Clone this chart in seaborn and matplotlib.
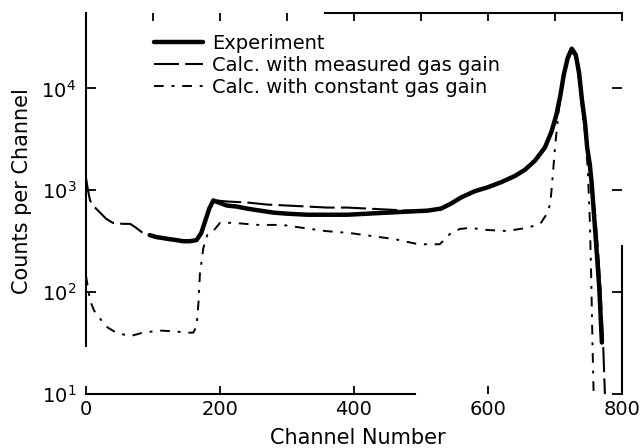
import matplotlib
matplotlib.use("Agg")
import matplotlib.pyplot as plt
import seaborn as sns
from matplotlib.ticker import MultipleLocator, LogLocator, NullLocator

# values (counts per channel)
ch_exp = [95, 105, 115, 125, 135, 145, 155, 165, 172, 178, 184, 190, 198,
          210, 225, 240, 260, 280, 300, 330, 360, 390, 420, 450, 480, 510,
          530, 545, 560, 580, 600, 620, 640, 655, 670, 685, 695, 702, 708,
          713, 719, 725, 731, 736, 740, 745, 748, 752, 755, 760, 766, 770]
cnt_exp = [363, 347, 339, 331, 324, 316, 316, 324, 380, 501, 661, 794, 759,
           708, 692, 661, 631, 603, 589, 575, 575, 575, 589, 603, 617, 631,
           661, 741, 851, 977, 1072, 1202, 1380, 1585, 1950, 2630, 3802, 5495, 8511,
           13490, 19953, 24547, 21380, 14125, 7943, 4467, 2630, 1778, 1122, 398, 112, 32]

ch_meas = [0, 3, 6, 12, 21, 30, 40, 55, 66, 75, 85, 95, 110, 130, 150,
           165, 175, 185, 195, 210, 240, 270, 300, 330, 360, 390, 420, 450, 480,
           510, 530, 545, 560, 580, 600, 620, 640, 655, 670, 685, 695, 702, 708,
           713, 719, 725, 731, 736, 740, 745, 748, 752, 755, 760, 764, 768, 772, 775]
cnt_meas = [1318, 1000, 794, 692, 603, 525, 479, 468, 468, 427, 380, 363, 347, 331, 316,
            324, 417, 676, 794, 776, 759, 724, 708, 692, 676, 676, 661, 646, 631,
            631, 661, 741, 851, 977, 1072, 1202, 1380, 1585, 1950, 2630, 3802, 5495, 8511,
            13490, 19953, 23988, 19953, 12589, 7079, 4169, 2512, 1778, 1122, 562, 269, 105, 29, 8]

ch_const = [0, 6, 12, 21, 30, 45, 66, 85, 110, 135, 150, 160, 165, 168, 170,
            175, 181, 190, 200, 219, 257, 293, 324, 357, 394, 427, 461, 496, 528,
            543, 558, 573, 600, 628, 658, 678, 688, 693, 696, 700, 705, 712, 719,
            725, 731, 736, 740, 745, 749, 752, 754, 756, 758]
cnt_const = [145, 83, 66, 55, 46, 40, 37, 40, 42, 41, 40, 40, 46, 81, 151,
             269, 363, 398, 479, 479, 457, 457, 427, 398, 380, 355, 331, 295, 295,
             372, 417, 427, 407, 398, 427, 468, 589, 741, 1230, 2630, 5623, 12589, 19055,
             22909, 19055, 12023, 6607, 3548, 1585, 501, 145, 30, 8]

labels = ["Experiment", "Calc. with measured gas gain", "Calc. with constant gas gain"]

sns.set_style("ticks")
plt.rcParams["font.family"] = ["DejaVu Sans"]
plt.rcParams.update({"text.color": "black", "axes.labelcolor": "black",
                     "xtick.color": "black", "ytick.color": "black"})

fig = plt.figure(figsize=(6.43, 4.48), dpi=100)
ax = fig.add_axes([86 / 643, 1 - 394 / 448, 536 / 643, 381 / 448])

sns.lineplot(x=ch_exp, y=cnt_exp, ax=ax, color="black", lw=3.2,
             sort=False, estimator=None, label=labels[0])
sns.lineplot(x=ch_meas, y=cnt_meas, ax=ax, color="black", lw=1.5,
             linestyle=(0, (12, 3)), sort=False, estimator=None, label=labels[1])
sns.lineplot(x=ch_const, y=cnt_const, ax=ax, color="black", lw=1.4,
             linestyle=(0, (5, 4, 1.5, 4)), sort=False, estimator=None, label=labels[2])

ax.set_yscale("log")
ax.set_xlim(0, 800)
ax.set_ylim(10, 10 ** 4.74)
ax.xaxis.set_major_locator(MultipleLocator(200))
ax.xaxis.set_minor_locator(MultipleLocator(100))
ax.yaxis.set_major_locator(LogLocator(base=10, numticks=10))
ax.yaxis.set_minor_locator(NullLocator())

ax.tick_params(axis="x", which="major", direction="in", top=True, bottom=True,
               length=6, width=1.3, labelsize=14, pad=4, colors="black")
ax.tick_params(axis="x", which="minor", direction="in", top=True, bottom=False,
               length=6, width=1.3, colors="black")
ax.tick_params(axis="y", which="major", direction="in", left=True, right=True,
               length=7, width=1.3, labelsize=14, pad=7, colors="black")

# the scan only shows parts of the frame
for s in ax.spines.values():
    s.set_linewidth(1.5)
    s.set_color("black")
ax.spines["top"].set_bounds(357, 800)
ax.spines["bottom"].set_bounds(0, 491)
ax.spines["left"].set_bounds(29.5, 10 ** 4.74)
ax.spines["right"].set_bounds(10, 282)

ax.set_xlabel("Channel Number", fontsize=15, color="black")
ax.set_ylabel("Counts per Channel", fontsize=15, color="black")
ax.xaxis.set_label_coords(0.507, -0.088)
ax.yaxis.set_label_coords(-0.101, 0.533)

leg = ax.legend(loc="upper left", bbox_to_anchor=(154 / 643, 1 - 34 / 448),
                bbox_transform=fig.transFigure, frameon=False, fontsize=14,
                handlelength=2.5, handletextpad=0.5, labelspacing=0.15,
                borderpad=0, borderaxespad=0)
for t in leg.get_texts():
    t.set_color("black")

fig.savefig("out.png", dpi=100)
